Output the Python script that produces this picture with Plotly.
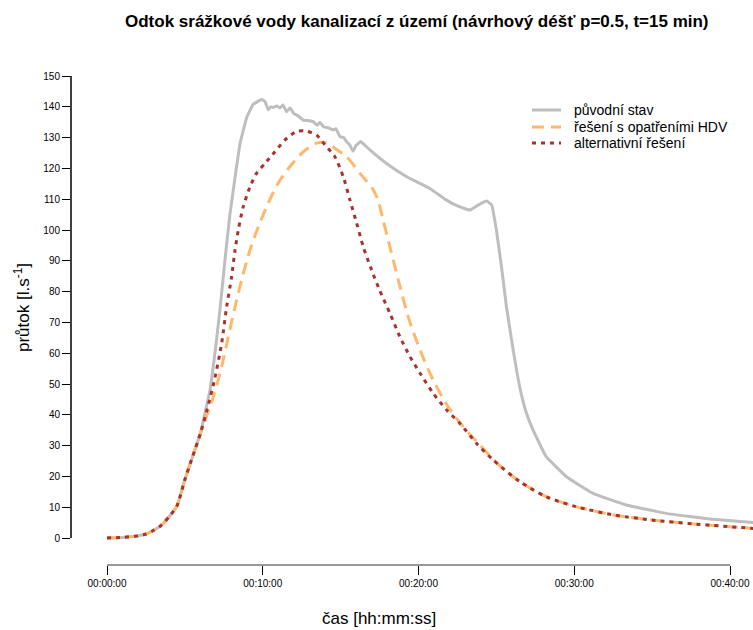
import plotly.graph_objects as go

# ---- data (time in minutes, flow in l/s) ----
t_puvodni = [0, 1, 2, 2.5, 3, 3.5, 4, 4.5, 5, 5.5, 6, 6.18, 6.61, 6.93, 7.25, 7.57, 7.89, 8.22, 8.54,
             8.97, 9.39, 9.93, 10.14, 10.36, 10.5, 10.68, 10.9, 11.1, 11.3, 11.53, 11.75, 12.0, 12.2,
             12.6, 13.0, 13.24, 13.5, 13.67, 13.9, 14.2, 14.5, 14.7, 14.96, 15.2, 15.38, 15.6, 15.8,
             16.0, 16.28, 16.5, 16.88, 17.95, 19.24, 20.73, 21.8, 22.5, 23.3, 23.8, 24.37, 24.7, 25.0,
             25.33, 25.65, 26.08, 26.5, 26.9, 27.36, 28.2, 29.5, 31.2, 33.35, 35.9, 38.9, 41.5]
q_puvodni = [0, 0.2, 0.7, 1.3, 2.5, 4.2, 7, 10.5, 19, 26.5, 34, 38, 48, 60, 74, 90, 105, 117, 128,
             136.5, 140.8, 142.4, 141.7, 139.0, 140.0, 139.8, 140.3, 139.6, 140.6, 138.4, 139.6, 137.8, 137.3,
             135.7, 135.5, 135.2, 134.0, 135.0, 133.5, 133.2, 132.5, 132.9, 130.3, 130.0, 128.7, 127.5, 125.6,
             127.5, 128.7, 127.8, 126.0, 121.6, 117.3, 113.5, 109.7, 107.8, 106.5, 108.0, 109.4, 108.1, 100,
             88, 75, 61, 49, 41, 35, 26.4, 19.9, 14.5, 10.7, 8.0, 6.1, 5.0]

t_hdv = [0, 1, 2, 2.5, 3, 3.5, 4, 4.5, 5, 5.5, 6.07, 6.83, 7.36, 7.79, 8.22, 8.64, 9.18, 9.71, 10.35,
         10.99, 11.75, 12.6, 13.46, 14.1, 14.5, 15.38, 16.24, 17.1, 17.4, 17.73, 18.16, 18.7, 19.34,
         20.1, 20.94, 21.9, 22.87, 23.94, 25.0, 26.5, 28.2, 30.1, 32.5, 35.07, 37.85, 41.5]
q_hdv = [0, 0.2, 0.7, 1.3, 2.5, 4.2, 7, 10.5, 19, 26.5, 35, 45.9, 55.6, 65.4, 75, 83.8, 93.5, 101, 108.7,
         115.2, 120.6, 125.4, 128.2, 128.3, 127, 123.8, 118.4, 113, 109.7, 103.2, 94.6, 83.8, 71.8,
         61, 51.3, 42.6, 36.1, 30.2, 24.5, 18.3, 13.4, 10.2, 7.5, 5.8, 4.5, 3.1]

t_alt = [0, 1, 2, 2.5, 3, 3.5, 4, 4.5, 5, 5.5, 6, 6.39, 6.93, 7.36, 7.68, 8.0, 8.22, 8.43, 8.75, 9.18,
         9.6, 10.14, 10.78, 11.42, 12.17, 12.8, 13.46, 13.9, 14.1, 14.63, 15.17, 15.6, 16.03, 16.45,
         16.99, 17.5, 18.16, 18.8, 19.45, 20.1, 20.94, 21.8, 22.66, 23.73, 24.8, 26.5, 28.2, 30.1,
         32.5, 35.07, 37.85, 41.5]
q_alt = [0, 0.2, 0.7, 1.3, 2.5, 4.2, 7, 10.5, 19, 26.5, 34, 41, 52, 63.2, 75, 84.8, 93.5, 100, 107.6, 114,
         118.4, 121.6, 125.4, 129.2, 132, 132.1, 130.8, 128.2, 127, 123.8, 117.3, 109.7, 102.2, 94.6,
         87, 80.5, 73, 65.4, 58.9, 53.5, 47, 41.6, 37.2, 30.7, 25.3, 18.3, 13.4, 10.2,
         7.5, 5.8, 4.5, 3.1]

series_names = ["původní stav", "řešení s opatřeními HDV", "alternativní řešení"]
series_colors = ["#BEBEBE", "#FFB86B", "#A8322D"]
series_dash = ["solid", "12px,7px", "4px,5px"]
x_tick_vals = [0, 10, 20, 30, 40]
x_tick_text = ["00:00:00", "00:10:00", "00:20:00", "00:30:00", "00:40:00"]
y_tick_vals = list(range(0, 151, 10))

FONT = "Liberation Sans, Arial, sans-serif"

# plot area in pixels
L, T, W, H = 71, 76, 682, 489


def px_x(p):
    return (p - L) / W


def px_y(p):
    return (T + H - p) / H


fig = go.Figure()
fig.add_trace(go.Scatter(x=t_puvodni, y=q_puvodni, mode="lines", name=series_names[0],
                         line=dict(color=series_colors[0], width=3, shape="spline", smoothing=0.3)))
fig.add_trace(go.Scatter(x=t_hdv, y=q_hdv, mode="lines", name=series_names[1],
                         line=dict(color=series_colors[1], width=3, dash=series_dash[1],
                                   shape="spline", smoothing=0.7)))
fig.add_trace(go.Scatter(x=t_alt, y=q_alt, mode="lines", name=series_names[2],
                         line=dict(color=series_colors[2], width=3, dash=series_dash[2],
                                   shape="spline", smoothing=0.7)))

shapes = [
    dict(type="line", xref="paper", yref="y", x0=0, x1=0, y0=0, y1=150,
         line=dict(color="black", width=1.5)),
    dict(type="line", xref="x", yref="paper", x0=0, x1=40, y0=0, y1=0,
         line=dict(color="#333333", width=1.2)),
]
annotations = [
    dict(text="<b>Odtok srážkové vody kanalizací z území (návrhový déšť p=0.5, t=15 min)</b>",
         xref="paper", yref="paper", x=px_x(417), y=px_y(22),
         xanchor="center", yanchor="middle", showarrow=False, font=dict(size=17, family=FONT)),
    dict(text="čas [hh:mm:ss]", xref="paper", yref="paper", x=px_x(379), y=px_y(618),
         xanchor="center", yanchor="middle", showarrow=False, font=dict(size=17, family=FONT)),
    dict(text="průtok [l.s<sup>-1</sup>]", xref="paper", yref="paper", x=px_x(22), y=px_y(307),
         xanchor="center", yanchor="middle", textangle=-90, showarrow=False,
         font=dict(size=17, family=FONT)),
]

# legend (drawn as keys + labels to match the compact row spacing)
legend_rows = [110, 127, 143]
for name, col, dash, ry in zip(series_names, series_colors, series_dash, legend_rows):
    shapes.append(dict(type="line", xref="paper", yref="paper", x0=px_x(532), x1=px_x(561),
                       y0=px_y(ry), y1=px_y(ry), line=dict(color=col, width=3, dash=dash)))
    annotations.append(dict(text=name, xref="paper", yref="paper", x=px_x(572), y=px_y(ry),
                            xanchor="left", yanchor="middle", showarrow=False,
                            font=dict(size=14, family=FONT)))

fig.update_layout(
    width=753, height=630,
    margin=dict(l=L, r=753 - L - W, t=T, b=630 - T - H),
    paper_bgcolor="white", plot_bgcolor="white",
    font=dict(family=FONT, color="black"),
    showlegend=False,
    xaxis=dict(range=[-(107 - 71) / 15.575, 40 + (753 - 730) / 15.575], showgrid=False, zeroline=False,
               showline=False, tickmode="array", tickvals=x_tick_vals, ticktext=x_tick_text,
               ticks="outside", ticklen=9, tickwidth=1, tickcolor="black",
               tickfont=dict(size=10, family=FONT)),
    yaxis=dict(range=[-(565 - 538) / 3.08, 150], showgrid=False, zeroline=False, showline=False,
               tickmode="array", tickvals=y_tick_vals, ticks="outside", ticklen=8, tickwidth=1,
               tickcolor="black", tickfont=dict(size=10, family=FONT)),
    shapes=shapes,
    annotations=annotations,
)

fig.write_html("out.html", config={"displayModeBar": False},
               post_script="document.body.style.margin='0';document.body.style.overflow='hidden';")
